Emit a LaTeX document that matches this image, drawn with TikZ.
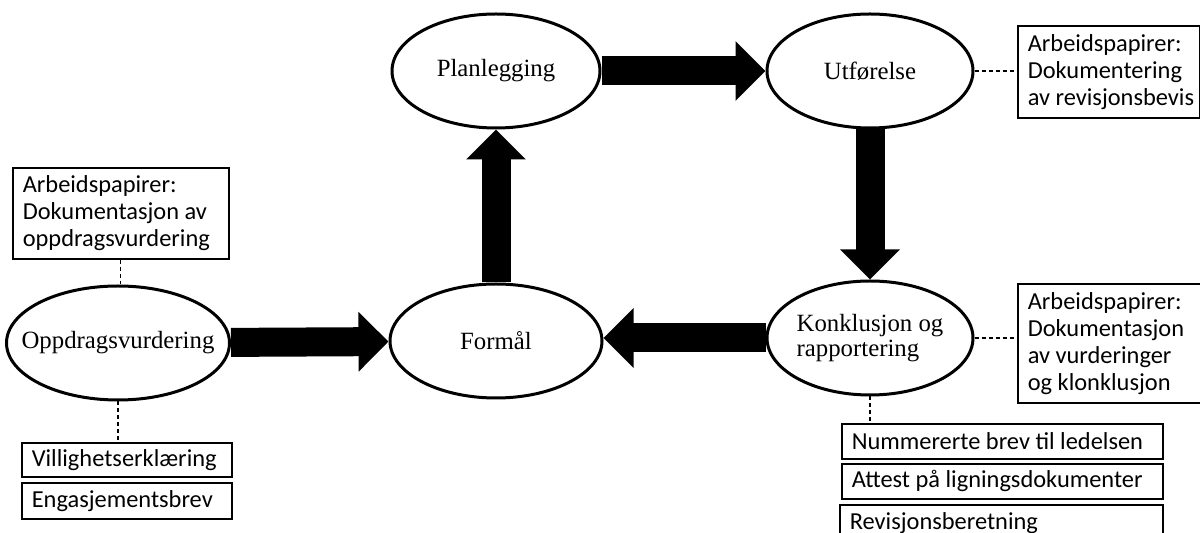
\documentclass[tikz,border=0pt]{standalone}
\usepackage{fontspec}
\setmainfont{Liberation Serif}
\newfontfamily\calibri{Carlito}
\usetikzlibrary{arrows.meta,shapes.geometric}

\begin{document}
\begin{tikzpicture}[x=.5pt,y=-.5pt,>={Triangle[length=15pt,width=29pt]},
    fase/.style={draw,ellipse,line width=1.5pt,inner sep=0,minimum height=57pt,
        label={[font=\fontsize{12.4}{12.2}\selectfont,align=left]center:#1}},
    papir/.style={draw,line width=.8pt,anchor=north west,align=flush left,inner xsep=5pt,inner ysep=0,
        font=\calibri\fontsize{12.2}{13.5}\selectfont},
    stor/.style={->,line width=14.5pt},
    strek/.style={line width=.6pt,dash pattern=on 2pt off 1.5pt}]
    \useasboundingbox(0,0)rectangle(1200,533);
    \clip(0,0)rectangle(1200,533);
    % faser
    \node[fase=Oppdragsvurdering,minimum width=111.5pt](opp)at(118,343){};
    \node[fase=Formål,minimum width=106pt](formal)at(496,341){};
    \node[fase=Planlegging,minimum width=104pt](plan)at(496,71){};
    \node[fase=Utførelse,minimum width=103pt](utf)at(870,71){};
    \node[fase={Konklusjon og\\rapportering},minimum width=103pt](konk)at(870,338){};
    \draw[stor](opp)--(formal);
    \draw[stor](formal)--(plan);
    \draw[stor](plan)--(utf);
    \draw[stor](utf)--(konk);
    \draw[stor](konk.west)--(konk.west-|formal.east);
    % arbeidspapirer og dokumenter
    \node[papir,text width=98pt,minimum height=45.5pt](arbopp)at(12,167){Arbeidspapirer:\\Dokumentasjon av\\oppdragsvurdering};
    \node[papir,text width=95pt,minimum height=17pt](vill)at(21,442){Villighetserklæring};
    \node[papir,text width=95pt,minimum height=18pt](enga)at(21,482){Engasjementsbrev};
    \node[papir,text width=81pt,minimum height=46pt](utfbox)at(1017,25){Arbeidspapirer:\\Dokumentering\\\mbox{av revisjonsbevis}};
    \node[papir,text width=81.5pt,minimum height=59.5pt](konkbox)at(1017,283){Arbeidspapirer:\\Dokumentasjon\\av vurderinger\\og klonklusjon};
    \node[papir,text width=150.5pt,minimum height=17.5pt](num)at(841,423){Nummererte brev til ledelsen};
    \node[papir,text width=150.5pt,minimum height=17.5pt](attest)at(841,463){Attest på ligningsdokumenter};
    \node[papir,text width=151.5pt,minimum height=18pt](rev)at(839,504){Revisjonsberetning};
    \draw[strek](arbopp.south)--(arbopp.south|-opp.north);
    \draw[strek](opp.south)--(opp.south|-vill.north);
    \draw[strek](utf.east)--(utf.east-|utfbox.west);
    \draw[strek](konk.east)--(konk.east-|konkbox.west);
    \draw[strek](konk.south)--(konk.south|-num.north);
\end{tikzpicture}
\end{document}
